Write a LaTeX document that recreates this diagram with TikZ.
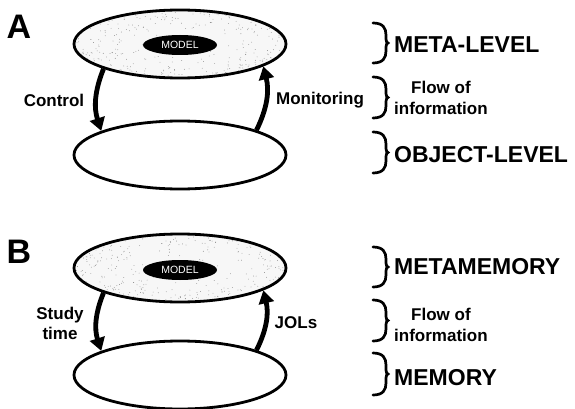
\documentclass[tikz,border=0pt]{standalone}
\usepackage{fontspec}
\setmainfont{Liberation Sans}
\usetikzlibrary{arrows.meta,shapes.geometric}
\newcommand\mybrace[2]{%
  \pgfmathsetmacro\bm{(#1+#2)/2}%
  \draw[bracestyle] (373,#1) .. controls (383,#1) and (386,#1+5) .. (386,#1+12)
    -- (386,\bm-4) .. controls (386,\bm-1.5) and (387,\bm) .. (388,\bm)
    .. controls (387,\bm) and (386,\bm+1.5) .. (386,\bm+4)
    -- (386,#2-12) .. controls (386,#2-5) and (383,#2) .. (373,#2);}
\newcommand\stipple[1]{%
  \foreach \i in {1,...,260}{%
    \pgfmathsetmacro\ang{rnd*360}%
    \pgfmathsetmacro\rr{rnd^0.25}%
    \pgfmathsetmacro\px{104*\rr*cos(\ang)}%
    \pgfmathsetmacro\py{32*\rr*sin(\ang)}%
    \fill[black!50] ([shift={(\px,\py)}]#1.center) circle (0.4pt);}}
\begin{document}
\begin{tikzpicture}[x=1pt,y=-1pt,
  level/.style={ellipse, draw, line width=2.8pt, minimum width=212pt, minimum height=68pt, inner sep=0pt},
  metalevel/.style={level, fill=black!3},
  model/.style={ellipse, fill=black, text=white, minimum width=74pt, minimum height=20pt, inner sep=0pt, font=\fontsize{10.5}{12}\selectfont},
  flow/.style={line width=4.8pt, -{Triangle[length=13pt,width=15pt]}},
  panel/.style={font=\bfseries\fontsize{34}{40}\selectfont, inner sep=0pt},
  side/.style={font=\bfseries\fontsize{17}{20}\selectfont, align=center, inner sep=0pt},
  levelname/.style={anchor=west, font=\bfseries\fontsize{23}{27}\selectfont, inner sep=0pt},
  flowinfo/.style={anchor=west, align=center, inner sep=0pt, font=\bfseries\fontsize{17}{21}\selectfont},
  bracestyle/.style={line width=2.7pt, line cap=round}]
\useasboundingbox (0,0) rectangle (575,409);
\pgfmathsetseed{7}
% ---------- Panel A ----------
\node[panel] (labA) at (19,27) {A};
\node[metalevel] (topA) at (180,44) {};
\stipple{topA}
\node[level] (botA) at (180,155) {};
\node[model] (modelA) at (180,45) {MODEL};
\draw[flow] (topA.198) to[bend right=20] (botA.163);
\draw[flow] (botA.18) to[bend right=20] (topA.345);
\node[side] (ctrl) at (54,100) {Control};
\node[side] (mon) at (320,100) {Monitoring};
\mybrace{23}{63}
\mybrace{77}{118}
\mybrace{132}{173}
\node[levelname] (metaA) at (394,45) {META-LEVEL};
\node[flowinfo] (flowA) at (394,98) {Flow of\\information};
\node[levelname] (objA) at (394,155) {OBJECT-LEVEL};
% ---------- Panel B ----------
\node[panel] (labB) at (19,252) {B};
\node[metalevel] (topB) at (180,268) {};
\stipple{topB}
\node[level] (botB) at (180,375) {};
\node[model] (modelB) at (180,270) {MODEL};
\draw[flow] (topB.198) to[bend right=20] (botB.163);
\draw[flow] (botB.18) to[bend right=20] (topB.345);
\node[side] (study) at (60,323) {Study\\time};
\node[side] (jols) at (296,323) {JOLs};
\mybrace{247}{287}
\mybrace{300}{341}
\mybrace{353}{395}
\node[levelname] (metaB) at (394,267) {METAMEMORY};
\node[flowinfo] (flowB) at (394,325) {Flow of\\information};
\node[levelname] (memB) at (394,378) {MEMORY};
\end{tikzpicture}
\end{document}
